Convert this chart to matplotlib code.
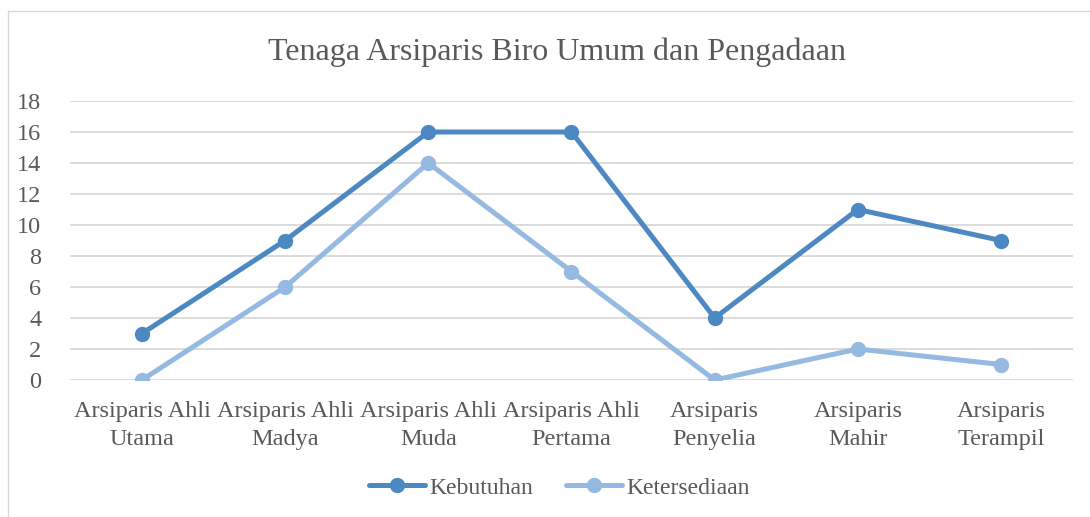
import matplotlib
matplotlib.use("Agg")
import matplotlib.pyplot as plt
from matplotlib.patches import Rectangle

categories = ["Arsiparis Ahli\nUtama", "Arsiparis Ahli\nMadya", "Arsiparis Ahli\nMuda",
              "Arsiparis Ahli\nPertama", "Arsiparis\nPenyelia", "Arsiparis\nMahir",
              "Arsiparis\nTerampil"]
kebutuhan = [3, 9, 16, 16, 4, 11, 9]
ketersediaan = [0, 6, 14, 7, 0, 2, 1]
yticks = [0, 2, 4, 6, 8, 10, 12, 14, 16, 18]
title = "Tenaga Arsiparis Biro Umum dan Pengadaan"

W, H = 1090, 517
plt.rcParams['font.family'] = ['Liberation Serif', 'DejaVu Serif']
fig = plt.figure(figsize=(W / 100, H / 100), dpi=100)
fig.patch.set_facecolor('white')

# chart frame
fig.patches.append(Rectangle((8 / W, -0.1), 1.2, (H - 11) / H + 0.1, transform=fig.transFigure,
                             fill=False, edgecolor='#d9d9d9', linewidth=1.0))

left, right = 70.4 / W, 1072.6 / W
bottom, top = (H - 380) / H, (H - 101) / H
ax = fig.add_axes([left, bottom, right - left, top - bottom])
ax.set_facecolor('none')

x = list(range(len(categories)))
c1, c2 = '#4C88C2', '#95B9E1'
ax.plot(x, kebutuhan, color=c1, lw=3.6, marker='o', ms=10, label='Kebutuhan',
        solid_capstyle='round', zorder=3)
ax.plot(x, ketersediaan, color=c2, lw=3.6, marker='o', ms=10, label='Ketersediaan',
        solid_capstyle='round', zorder=3)

ax.set_xlim(-0.5, len(categories) - 0.5)
ax.set_ylim(0, 18)
ax.set_yticks(yticks)
ax.set_xticks(x)
ax.set_xticklabels(categories, linespacing=1.42)
ax.grid(axis='y', color='#d9d9d9', lw=1.3, zorder=0)
for s in ax.spines.values():
    s.set_visible(False)
ax.tick_params(axis='both', length=0, labelsize=17.5, colors='#595959')
ax.tick_params(axis='y', pad=21)
ax.tick_params(axis='x', pad=15)

fig.text(557 / W, 1 - 52.5 / H, title, ha='center', va='center', fontsize=23, color='#595959')

leg = fig.legend(loc='center', bbox_to_anchor=(559 / W, 1 - 488 / H), ncol=2, frameon=False,
                 fontsize=17, handlelength=2.4, handletextpad=0.15, columnspacing=1.4)
for t in leg.get_texts():
    t.set_color('#595959')

fig.savefig('out.png', dpi=100, facecolor='white')
